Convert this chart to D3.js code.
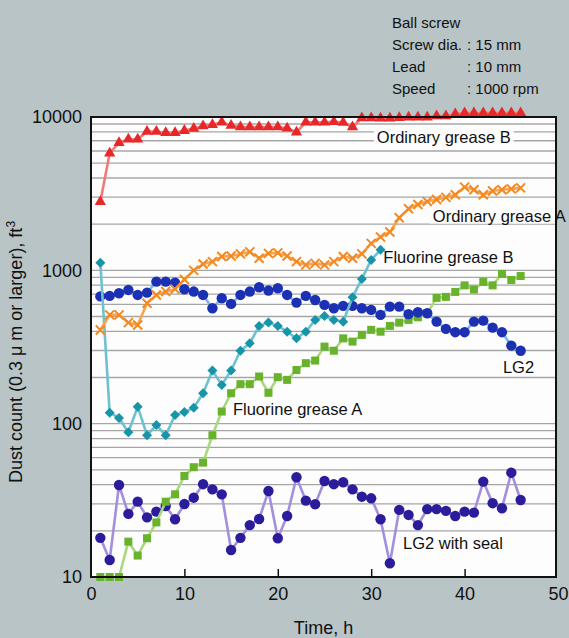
<!DOCTYPE html>
<html lang="en">
<head>
<meta charset="UTF-8">
<title>Dust count vs time</title>
<script src="https://d3js.org/d3.v7.min.js"></script>
<style>
  body { margin: 0; background: #b8c4c6; }
  svg text { font-family: "Liberation Sans", Arial, Helvetica, sans-serif; fill: #111; }
</style>
</head>
<body>
<script>
// hours at which the dust count was sampled
const hours = [1, 2, 3, 4, 5, 6, 7, 8, 9, 10, 11, 12, 13, 14, 15, 16, 17, 18, 19, 20, 21, 22, 23,
  24, 25, 26, 27, 28, 29, 30, 31, 32, 33, 34, 35, 36, 37, 38, 39, 40, 41, 42, 43, 44, 45, 46];

// dust counts per series
const ordinaryB = [2800, 5800, 6800, 7150, 7150, 8050, 8050, 7900, 7900, 8150, 8400, 8750, 8900, 9250,
  8800, 8600, 8600, 8600, 8600, 8600, 8450, 7950, 9250, 9250, 9250, 9300, 9200, 8600, 9850, 9850,
  9800, 9800, 9900, 9950, 9950, 9950, 10150, 10150, 10450, 10600, 10600, 10600, 10600, 10600, 10600, 10600];
const ordinaryA = [408, 512, 512, 456, 440, 610, 691, 727, 754, 872, 1000, 1100, 1140, 1230, 1240,
  1280, 1320, 1200, 1290, 1300, 1240, 1140, 1085, 1110, 1085, 1140, 1230, 1200, 1280, 1500,
  1650, 1780, 2200, 2520, 2690, 2810, 2900, 2990, 3110, 3490, 3350, 3110, 3290, 3350, 3400, 3450];
const fluorineB = [1120, 118, 109, 88, 129, 84, 98, 84, 114, 119, 127, 158, 222, 179, 222, 299, 334,
  434, 456, 434, 398, 360, 398, 475, 504, 475, 462, 668, 879, 1170, 1360];
const lg2 = [676, 681, 709, 745, 691, 716, 844, 844, 831, 753, 727, 691, 566, 658, 604, 691, 727, 776,
  738, 764, 691, 616, 681, 641, 595, 566, 586, 586, 566, 552, 512, 580, 580, 518, 533, 525, 463,
  415, 395, 395, 463, 470, 423, 395, 323, 299];
const fluorineA = [10, 10, 10, 17, 13.8, 17.9, 22.7, 31, 34.6, 45.6, 52, 55.7, 84, 120, 158, 181, 181,
  203, 159, 201, 193, 224, 248, 258, 318, 299, 360, 343, 379, 409, 398, 434, 456, 475, 494, 525,
  661, 671, 723, 798, 750, 840, 798, 948, 865, 918];
const lg2Seal = [18, 12.9, 39.8, 25.8, 31, 24.5, 26.7, 29, 23.8, 29.9, 32.9, 40.3, 37.3, 34.6, 15, 18,
  21.8, 23.9, 36.4, 17.9, 25, 44.7, 31.5, 29.8, 42.3, 40.3, 41.5, 37.3, 33.4, 32.6, 23.8, 12.3,
  27.4, 25.4, 21.8, 27.7, 27.7, 27, 25, 26.7, 26.3, 41.9, 30.3, 28.1, 47.9, 31.8];

const xTicks = [0, 10, 20, 30, 40, 50];
const yTicks = [10, 100, 1000, 10000];
const specLabels = ["Ball screw", "Screw dia.", "Lead", "Speed"];
const specValues = ["", ": 15 mm", ": 10 mm", ": 1000 rpm"];

const width = 569, height = 638;
const plotLeft = 91, plotRight = 556, plotTop = 117, plotBottom = 577;

const svg = d3.select("body").append("svg")
  .attr("width", width).attr("height", height);

svg.append("rect").attr("width", width).attr("height", height).attr("fill", "#b8c4c6");

const x = d3.scaleLinear().domain([0, 50]).range([plotLeft, 558]);
const y = d3.scaleLog().domain([10, 10000]).range([plotBottom, plotTop]);

// plot area
svg.append("rect")
  .attr("x", plotLeft).attr("y", plotTop)
  .attr("width", plotRight - plotLeft).attr("height", plotBottom - plotTop)
  .attr("fill", "#fdfdfd");

svg.append("clipPath").attr("id", "plotClip")
  .append("rect").attr("x", plotLeft).attr("y", plotTop)
  .attr("width", plotRight - plotLeft).attr("height", plotBottom - plotTop);

// log grid lines 20..9000
const gridVals = [];
[10, 100, 1000].forEach(d => {
  for (let k = 1; k <= 9; k++) if (d * k > 10) gridVals.push(d * k);
});
svg.append("g").selectAll("line").data(gridVals).join("line")
  .attr("x1", plotLeft).attr("x2", plotRight)
  .attr("y1", d => y(d)).attr("y2", d => y(d))
  .attr("stroke", "#a6a6a6").attr("stroke-width", 1.3);

// series labels, placed in data coordinates (white boxes knock out the grid)
const labels = [
  { text: "Ordinary grease B", t: 30.6, v: 6800 },
  { text: "Ordinary grease A", t: 36.6, v: 2080 },
  { text: "Fluorine grease B", t: 31.3, v: 1120 },
  { text: "Fluorine grease A", t: 15.2, v: 114 },
  { text: "LG2", t: 44.1, v: 214 },
  { text: "LG2 with seal", t: 33.4, v: 15.2 }
];
const labelBg = svg.append("g").attr("clip-path", "url(#plotClip)");

// series
const series = [
  { name: "lg2Seal", values: lg2Seal, line: "#a48fdc", mark: "#2b1c9c", shape: "circle" },
  { name: "fluorineA", values: fluorineA, line: "#a9d97c", mark: "#68b22c", shape: "square" },
  { name: "lg2", values: lg2, line: "#74b8ec", mark: "#1c30b4", shape: "circle" },
  { name: "fluorineB", values: fluorineB, line: "#6cc2cf", mark: "#1894a8", shape: "diamond" },
  { name: "ordinaryA", values: ordinaryA, line: "#f7a452", mark: "#f5881e", shape: "times" },
  { name: "ordinaryB", values: ordinaryB, line: "#f07a7a", mark: "#e82828", shape: "triangle" }
];

const line = d3.line().x(d => x(d[0])).y(d => y(d[1]));

series.forEach(s => {
  const pts = s.values.map((v, i) => [hours[i], v]);
  const g = svg.append("g").attr("class", "series-" + s.name);
  g.append("path").datum(pts)
    .attr("d", line)
    .attr("fill", "none")
    .attr("stroke", s.line)
    .attr("stroke-width", 2.6)
    .attr("stroke-linejoin", "round");

  const marks = g.selectAll(".mark").data(pts).join("g")
    .attr("class", "mark")
    .attr("transform", d => "translate(" + x(d[0]) + "," + y(d[1]) + ")");

  if (s.shape === "circle") {
    marks.append("circle").attr("r", 5.2).attr("fill", s.mark);
  } else if (s.shape === "square") {
    marks.append("rect").attr("x", -4).attr("y", -4).attr("width", 8).attr("height", 8).attr("fill", s.mark);
  } else if (s.shape === "diamond") {
    marks.append("path").attr("d", d3.symbol().type(d3.symbolSquare).size(50))
      .attr("transform", "rotate(45)").attr("fill", s.mark);
  } else if (s.shape === "triangle") {
    marks.append("path").attr("d", d3.symbol().type(d3.symbolTriangle).size(55))
      .attr("fill", s.mark);
  } else if (s.shape === "times") {
    marks.append("path").attr("d", "M-4.5,-4.5L4.5,4.5M-4.5,4.5L4.5,-4.5")
      .attr("stroke", s.mark).attr("stroke-width", 2).attr("fill", "none");
  }
});

// frame
svg.append("rect")
  .attr("x", plotLeft).attr("y", plotTop)
  .attr("width", plotRight - plotLeft).attr("height", plotBottom - plotTop)
  .attr("fill", "none").attr("stroke", "#111").attr("stroke-width", 2);

// label text on top
const labelG = svg.append("g");
labels.forEach(l => {
  const t = labelG.append("text")
    .attr("x", x(l.t)).attr("y", y(l.v))
    .attr("font-size", 16.5)
    .text(l.text);
  const b = t.node().getBBox();
  labelBg.append("rect")
    .attr("x", b.x - 3).attr("y", b.y + 1)
    .attr("width", b.width + 6).attr("height", b.height - 2)
    .attr("fill", "#fdfdfd");
});

// x axis
const xAxis = svg.append("g")
  .attr("transform", "translate(0," + plotBottom + ")")
  .call(d3.axisBottom(x).tickValues(xTicks).tickSize(-8).tickPadding(10));
xAxis.select(".domain").remove();
xAxis.selectAll(".tick line").attr("stroke", "#111").attr("stroke-width", 1.5)
  .attr("opacity", d => (d === 0 || d === 50) ? 0 : 1);
xAxis.selectAll(".tick text").attr("font-size", 18).attr("fill", "#111")
  .style("font-family", "'Liberation Sans', Arial, sans-serif");

// y axis
const yAxis = svg.append("g")
  .attr("transform", "translate(" + plotLeft + ",0)")
  .call(d3.axisLeft(y).tickValues(yTicks).tickSize(0).tickPadding(9).tickFormat(d3.format("d")));
yAxis.select(".domain").remove();
yAxis.selectAll(".tick text").attr("font-size", 18).attr("fill", "#111")
  .style("font-family", "'Liberation Sans', Arial, sans-serif");

// axis titles
svg.append("text")
  .attr("x", (plotLeft + plotRight) / 2).attr("y", 634)
  .attr("text-anchor", "middle").attr("font-size", 18)
  .text("Time, h");

const yTitle = svg.append("text")
  .attr("transform", "translate(22,352) rotate(-90)")
  .attr("text-anchor", "middle").attr("font-size", 18);
yTitle.append("tspan").text("Dust count (0.3 \u03bc m or larger), ft");
yTitle.append("tspan").attr("font-size", 12).attr("dy", -7).text("3");

// test conditions, top right
const spec = svg.append("g");
specLabels.forEach((s, i) => {
  spec.append("text").attr("x", 392).attr("y", 28 + i * 22).attr("font-size", 15).text(s);
  spec.append("text").attr("x", 467).attr("y", 28 + i * 22).attr("font-size", 15).text(specValues[i]);
});
</script>
</body>
</html>
